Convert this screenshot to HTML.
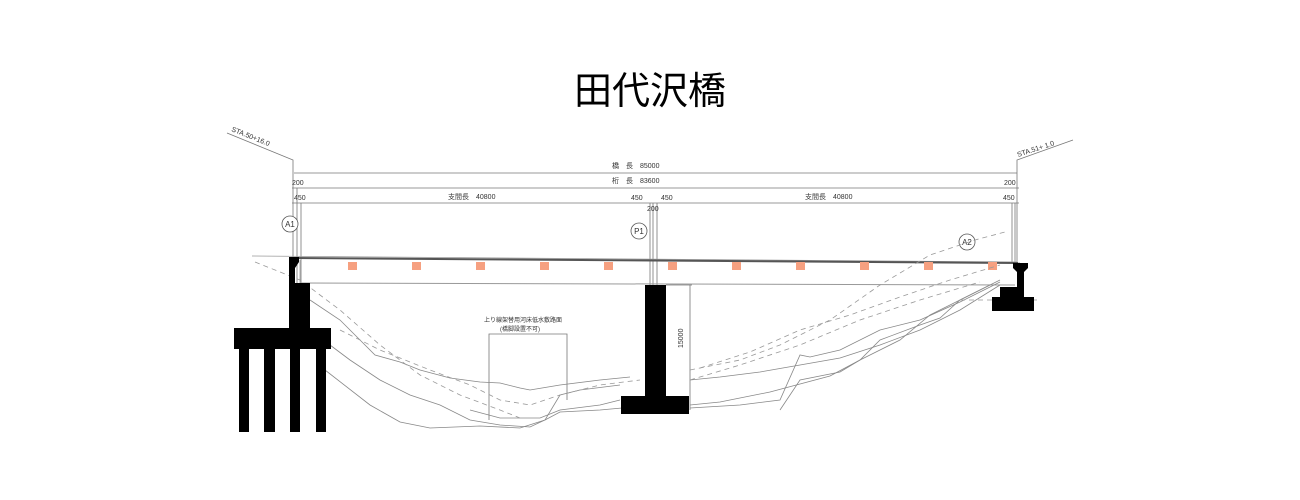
<!DOCTYPE html>
<html><head><meta charset="utf-8"><style>
html,body{margin:0;padding:0;background:#fff;width:1300px;height:500px;overflow:hidden}
svg{display:block}
text{font-family:"Liberation Sans","Noto Sans CJK JP",sans-serif}
</style></head><body>
<svg width="1300" height="500" viewBox="0 0 1300 500" xmlns="http://www.w3.org/2000/svg">
<text x="650" y="104" font-size="38" text-anchor="middle" fill="#000">田代沢橋</text>

<g stroke="#777" stroke-width="0.8" fill="none">
<!-- station lines -->
<polyline points="227,133 293,160 293,258"/>
<polyline points="1073,140 1017,160 1017,262"/>
<!-- dimension lines -->
<line x1="294" y1="173" x2="1017" y2="173"/>
<line x1="292" y1="188" x2="1019" y2="188"/>
<line x1="292" y1="203" x2="1019" y2="203"/>
<line x1="297" y1="188" x2="297" y2="285"/>
<line x1="301" y1="203" x2="301" y2="285"/>
<line x1="650" y1="203" x2="650" y2="285"/>
<line x1="653" y1="203" x2="653" y2="285"/>
<line x1="657" y1="203" x2="657" y2="285"/>
<line x1="1012" y1="203" x2="1012" y2="262"/>
<line x1="1015" y1="203" x2="1015" y2="262"/>
<!-- P1 height dim -->
<line x1="690" y1="285" x2="690" y2="410"/>
<line x1="666" y1="285" x2="692" y2="285"/>
<!-- label box -->
<polyline points="489,420 489,334 567,334 567,400"/>
</g>
<g font-size="7" fill="#333">
<text x="612" y="168">橋　長　85000</text>
<text x="612" y="183">桁　長　83600</text>
<text x="448" y="199">支間長　40800</text>
<text x="805" y="199">支間長　40800</text>
<text x="292" y="185">200</text>
<text x="294" y="200">450</text>
<text x="631" y="200">450</text>
<text x="661" y="200">450</text>
<text x="647" y="211">200</text>
<text x="1004" y="185">200</text>
<text x="1003" y="200">450</text>
<text x="0" y="0" transform="translate(231,131) rotate(22)">STA.50+16.0</text>
<text x="0" y="0" transform="translate(1018,157) rotate(-18)">STA.51+ 1.0</text>
<text x="0" y="0" transform="translate(683,348) rotate(-90)">15000</text>
<text x="484" y="322" font-size="6">上り線架替用河床低水敷路面</text>
<text x="500" y="331" font-size="6">(橋脚設置不可)</text>
</g>
<g fill="#fff" stroke="#555" stroke-width="0.8">
<circle cx="290" cy="224" r="8"/><circle cx="639" cy="231" r="8"/><circle cx="967" cy="242" r="8"/>
</g>
<g font-size="8" fill="#333" text-anchor="middle">
<text x="290" y="227">A1</text><text x="639" y="234">P1</text><text x="967" y="245">A2</text>
</g>

<!-- deck -->
<g fill="none">
<line x1="252" y1="256" x2="1020" y2="262" stroke="#999" stroke-width="0.8"/>
<line x1="293" y1="258" x2="1018" y2="263" stroke="#555" stroke-width="2"/>
<line x1="300" y1="283" x2="1015" y2="285" stroke="#999" stroke-width="1"/>
<line x1="300" y1="260" x2="300" y2="283" stroke="#999" stroke-width="0.8"/>
</g>
<g fill="#f6a080">
<rect x="348" y="262" width="9" height="8"/><rect x="412" y="262" width="9" height="8"/>
<rect x="476" y="262" width="9" height="8"/><rect x="540" y="262" width="9" height="8"/>
<rect x="604" y="262" width="9" height="8"/><rect x="668" y="262" width="9" height="8"/>
<rect x="732" y="262" width="9" height="8"/><rect x="796" y="262" width="9" height="8"/>
<rect x="860" y="262" width="9" height="8"/><rect x="924" y="262" width="9" height="8"/>
<rect x="988" y="262" width="9" height="8"/>
</g>

<!-- ground lines -->
<g fill="none" stroke="#888" stroke-width="0.8">
<polyline points="310,300 340,320 360,340 375,355 400,362 420,370 450,378 480,382 500,383 520,388 530,390 560,385 600,380 630,377"/>
<polyline points="310,330 350,360 380,380 410,395 440,405 470,420 500,425 530,427 545,420 560,395 580,390 620,385"/>
<polyline points="325,370 370,405 400,422 430,428 480,426 520,428 545,420 560,412 600,410 622,408"/>
<polyline points="690,380 720,377 760,372 800,365 840,358 880,345 920,330 960,310 1000,285"/>
<polyline points="690,408 740,405 780,400 800,355 810,357 840,350 880,330 920,320 960,302 1000,282"/>
<polyline points="690,405 720,402 770,392 800,384 830,376 860,360 880,340 920,325 940,318 960,300 990,285"/>
<polyline points="780,410 790,395 800,380 840,372 860,360 900,340 930,315 960,300 1000,280"/>
<polyline points="470,410 500,418 540,418 560,410 600,405 620,400"/>
</g>
<g fill="none" stroke="#999" stroke-width="0.8" stroke-dasharray="5,4">
<polyline points="255,262 300,280 340,310 380,345 420,375 460,395 500,410 520,418"/>
<polyline points="340,330 380,350 430,370 470,385 500,400 530,405 560,395 600,385 640,380"/>
<polyline points="690,370 740,360 780,345 830,320 880,285 930,255 975,240 1005,232"/>
<polyline points="700,368 750,352 800,330 850,315 900,297 950,280 1000,265"/>
<polyline points="690,380 740,365 800,345 860,320 920,300 980,282"/>
<line x1="960" y1="300" x2="1040" y2="300"/>
</g>

<!-- A1 -->
<g fill="#000">
<polygon points="289,257 299,257 299,262 295,268 295,283 310,283 310,328 331,328 331,349 234,349 234,328 289,328"/>
<rect x="239" y="349" width="10" height="83"/>
<rect x="264" y="349" width="11" height="83"/>
<rect x="290" y="349" width="10" height="83"/>
<rect x="316" y="349" width="10" height="83"/>
<!-- P1 -->
<rect x="645" y="285" width="21" height="112"/>
<rect x="621" y="396" width="68" height="18"/>
<!-- A2 -->
<polygon points="1013,263 1028,263 1028,268 1024,272 1024,297 1034,297 1034,311 992,311 992,297 1000,297 1000,287 1017,287 1017,272 1013,268"/>
</g>
</svg>
</body></html>
